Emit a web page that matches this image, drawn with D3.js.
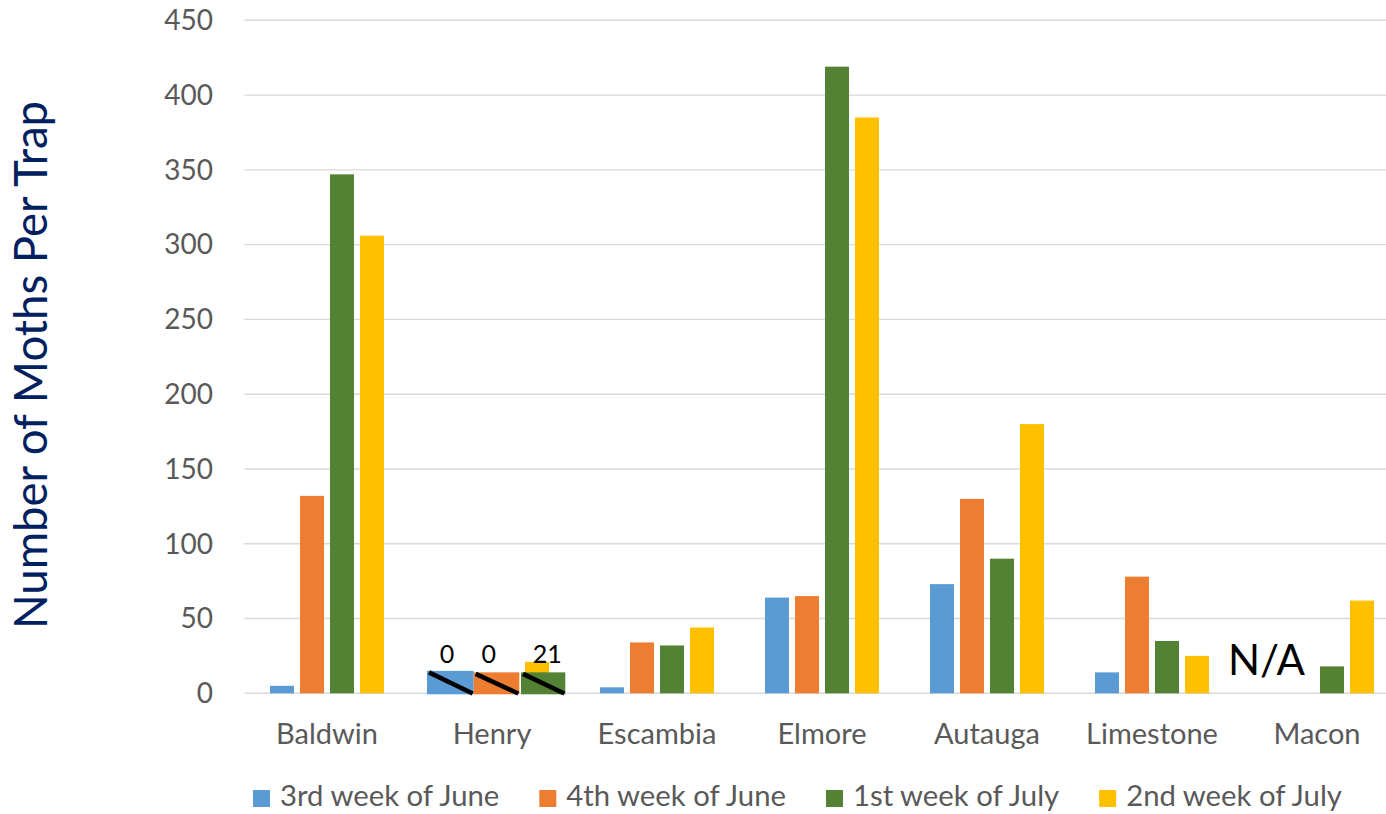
<!DOCTYPE html>
<html>
<head>
<meta charset="utf-8">
<script src="https://cdn.jsdelivr.net/npm/d3@7/dist/d3.min.js"></script>
<style>
  html, body { margin: 0; padding: 0; background: #fff; overflow: hidden; }
  text { font-family: Lato, "Open Sans", sans-serif; }
</style>
</head>
<body>
<svg id="chart" width="1386" height="814"></svg>
<script>
// ---- Data ----
const categories = ["Baldwin", "Henry", "Escambia", "Elmore", "Autauga", "Limestone", "Macon"];
const seriesNames = ["3rd week of June", "4th week of June", "1st week of July", "2nd week of July"];
const june3 = [5, 0, 4, 64, 73, 14, null];
const june4 = [132, 0, 34, 65, 130, 78, null];
const july1 = [347, 0, 32, 419, 90, 35, 18];
const july2 = [306, 21, 44, 385, 180, 25, 62];
const yTicks = [0, 50, 100, 150, 200, 250, 300, 350, 400, 450];
const colors = ["#5B9BD5", "#ED7D31", "#548235", "#FFC000"];
// Henry annotation (pasted patches with slashes and labels)
const henryPatchValues = [15, 14, 14];
const henryLabels = ["0", "0", "21"];
const naLabel = "N/A";
const yTitle = "Number of Moths Per Trap";

const seriesValues = [june3, june4, july1, july2];

const svg = d3.select("#chart");
const y = d3.scaleLinear().domain([0, 450]).range([693.3, 20.3]);
const x0 = d3.scaleBand().domain(categories).range([244.5, 1399.5])
  .paddingInner(0.309).paddingOuter(0.1545);
const x1 = d3.scaleBand().domain(d3.range(seriesNames.length)).range([0, 114]).paddingInner(0.2);

// gridlines
svg.append("g").selectAll("line").data(yTicks).join("line")
  .attr("x1", 244.5).attr("x2", 1399.5)
  .attr("y1", d => y(d)).attr("y2", d => y(d))
  .attr("stroke", "#d9d9d9").attr("stroke-width", 1.4);

// y tick labels
svg.append("g").selectAll("text").data(yTicks).join("text")
  .attr("x", 213).attr("y", d => y(d)).attr("dy", "0.35em")
  .attr("text-anchor", "end").attr("font-size", 28).attr("fill", "#595959")
  .text(d => d);

// bars
const barData = [];
categories.forEach((c, ci) => {
  seriesValues.forEach((vals, si) => {
    const v = vals[ci];
    if (v !== null && v > 0) barData.push({ c, si, v });
  });
});
svg.append("g").selectAll("rect").data(barData).join("rect")
  .attr("x", d => x0(d.c) + x1(d.si))
  .attr("width", x1.bandwidth())
  .attr("y", d => y(d.v))
  .attr("height", d => y(0) - y(d.v))
  .attr("fill", d => colors[d.si]);

// category labels
svg.append("g").selectAll("text").data(categories).join("text")
  .attr("x", d => x0(d) + x0.bandwidth() / 2).attr("y", 744)
  .attr("text-anchor", "middle").attr("font-size", 29).attr("fill", "#595959")
  .text(d => d);

// Henry annotation patches
const hx = x0("Henry");
const patchOffsets = [[-8, 38.7], [38.7, 84.3], [86, 130.3]];
const ann = svg.append("g");
henryPatchValues.forEach((v, i) => {
  const l = hx + patchOffsets[i][0], r = hx + patchOffsets[i][1];
  const top = y(v), bot = y(0) + 1;
  ann.append("rect").attr("x", l).attr("y", top).attr("width", r - l).attr("height", bot - top)
    .attr("fill", colors[i]);
  ann.append("line").attr("x1", l + 2).attr("y1", top + 1.5).attr("x2", r - 1).attr("y2", bot - 0.8)
    .attr("stroke", "#000").attr("stroke-width", 4.5);
});
const labelOffsets = [12, 53.7, 112.3];
ann.selectAll("text.hl").data(henryLabels).join("text")
  .attr("class", "hl")
  .attr("x", (d, i) => hx + labelOffsets[i]).attr("y", y(20.3))
  .attr("text-anchor", "middle").attr("font-size", 25).attr("fill", "#000")
  .text(d => d);

// N/A label for Macon
svg.append("text")
  .attr("x", x0("Macon") + 6.5).attr("y", 675)
  .attr("text-anchor", "middle").attr("font-size", 42).attr("fill", "#000")
  .text(naLabel);

// y-axis title
svg.append("text")
  .attr("transform", "translate(47,365) rotate(-90)")
  .attr("text-anchor", "middle").attr("font-size", 45.5).attr("fill", "#002060")
  .text(yTitle);

// legend
const leg = svg.append("g");
let lx = 253;
seriesNames.forEach((name, i) => {
  leg.append("rect").attr("x", lx).attr("y", 790).attr("width", 17).attr("height", 17)
    .attr("fill", colors[i]);
  const t = leg.append("text").attr("x", lx + 27).attr("y", 806)
    .attr("font-size", 29.3).attr("fill", "#595959").text(name);
  lx = lx + 27 + t.node().getComputedTextLength() + 40;
});
</script>
</body>
</html>
